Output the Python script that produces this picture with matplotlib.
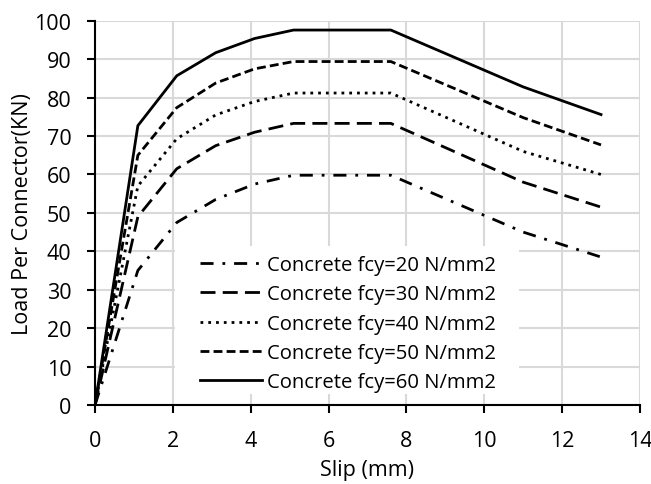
import matplotlib
matplotlib.use("Agg")
import matplotlib.pyplot as plt
from matplotlib.patches import Rectangle

# Slip (mm) at each recorded point
slip = [0, 1.1, 2.1, 3.1, 4.1, 5.1, 7.6, 11.0, 13.0]

# Load per connector (KN) for each concrete strength
load_20 = [0, 35.0, 47.5, 53.5, 57.5, 59.8, 59.8, 45.0, 38.5]
load_30 = [0, 49.0, 61.5, 67.5, 71.0, 73.3, 73.3, 58.0, 51.5]
load_40 = [0, 57.0, 69.3, 75.5, 79.0, 81.2, 81.2, 66.0, 60.0]
load_50 = [0, 65.0, 77.4, 83.8, 87.5, 89.4, 89.4, 74.8, 67.7]
load_60 = [0, 72.7, 85.7, 91.7, 95.4, 97.6, 97.6, 82.8, 75.6]

labels = ["Concrete fcy=20 N/mm2", "Concrete fcy=30 N/mm2",
          "Concrete fcy=40 N/mm2", "Concrete fcy=50 N/mm2",
          "Concrete fcy=60 N/mm2"]

plt.rcParams['font.family'] = ['Open Sans', 'DejaVu Sans']

fig = plt.figure(figsize=(6.51, 4.85), dpi=100)
ax = fig.add_axes([0.146, 0.163, 0.837, 0.792])

lw = 2.0
ax.plot(slip, load_20, color='black', lw=lw, dashes=(4.7, 3.2, 1, 3.2), label=labels[0])
ax.plot(slip, load_30, color='black', lw=lw, dashes=(5.4, 2.6), label=labels[1])
ax.plot(slip, load_40, color='black', lw=lw, dashes=(1, 1.8), label=labels[2])
ax.plot(slip, load_50, color='black', lw=lw, dashes=(3.2, 1.5), label=labels[3])
ax.plot(slip, load_60, color='black', lw=lw, label=labels[4])

ax.set_xlim(0, 14)
ax.set_ylim(0, 100)
ax.set_xticks(range(0, 15, 2))
ax.set_yticks(range(0, 101, 10))
ax.grid(True, color='#d9d9d9', lw=1.5)
ax.set_axisbelow(True)

# white area behind the legend hides the grid
ax.add_patch(Rectangle((2.06, 2.8), 8.84, 38.6, facecolor='white',
                       edgecolor='none', zorder=1))

for s in ['top', 'right']:
    ax.spines[s].set_visible(False)
for s in ['left', 'bottom']:
    ax.spines[s].set_linewidth(1.5)
    ax.spines[s].set_zorder(3)

ax.tick_params(axis='both', direction='out', length=6, width=1.5,
               labelsize=15.5)
ax.tick_params(axis='x', pad=12)
ax.tick_params(axis='y', pad=11)
ax.set_xlabel("Slip (mm)", fontsize=15.5, labelpad=6)
ax.set_ylabel("Load Per Connector(KN)", fontsize=15.5, labelpad=1)

leg = ax.legend(loc='upper left', bbox_to_anchor=(0.193, 0.39),
                frameon=False, fontsize=14.6,
                handlelength=3.05, handletextpad=0.25, labelspacing=0.46,
                borderpad=0, borderaxespad=0)

fig.savefig("out.png", dpi=100)
